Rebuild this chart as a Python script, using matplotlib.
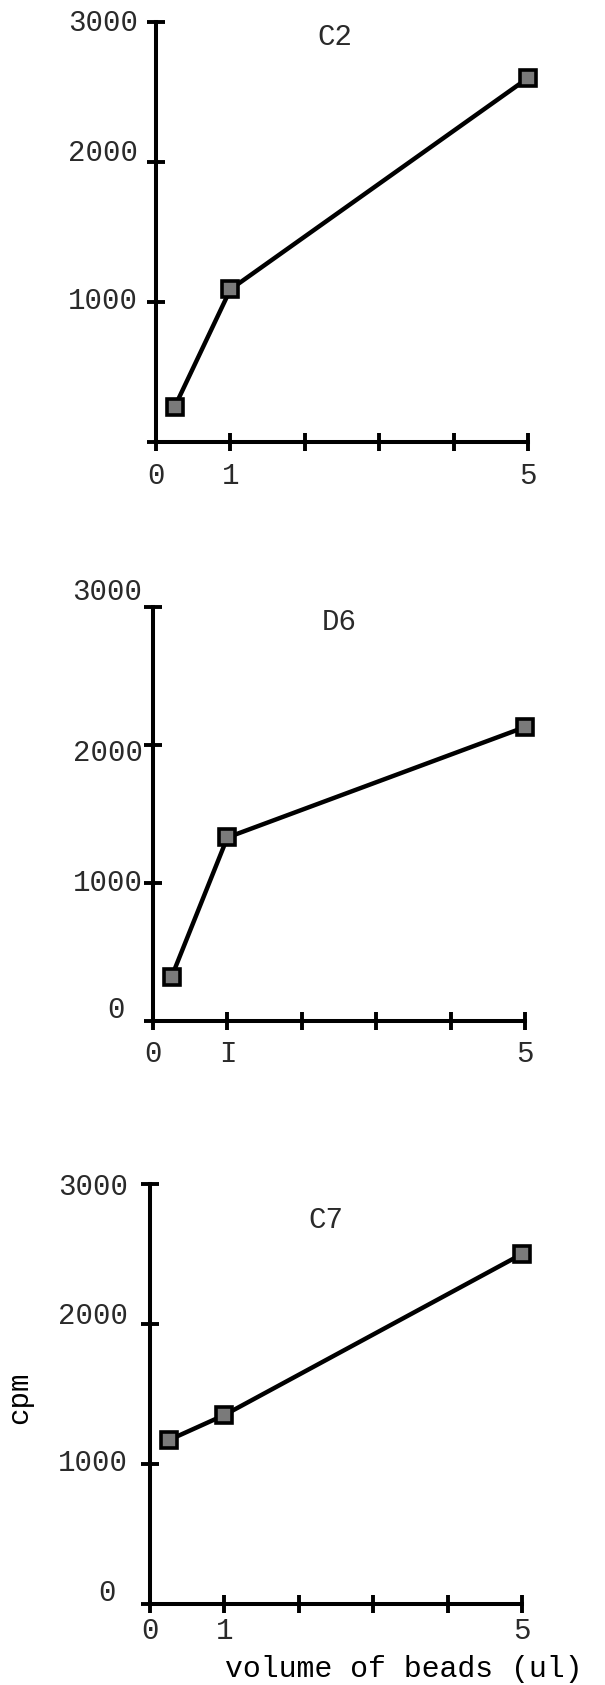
import matplotlib.pyplot as plt
from matplotlib.transforms import ScaledTranslation

plt.rcParams['font.family'] = ['Liberation Mono', 'DejaVu Sans Mono']
plt.rcParams['font.size'] = 21
plt.rcParams['text.color'] = '#2a2a2a'
plt.rcParams['xtick.color'] = 'black'
plt.rcParams['ytick.color'] = 'black'
plt.rcParams['xtick.labelcolor'] = '#2a2a2a'
plt.rcParams['ytick.labelcolor'] = '#2a2a2a'

# bead volume (ul) and counts per minute for the three clones
volume = [0.25, 1, 5]
c2_cpm = [250, 1090, 2600]
d6_cpm = [320, 1330, 2130]
c7_cpm = [1170, 1350, 2500]

x_ticks = [0, 1, 2, 3, 4, 5]
y_ticks = [0, 1000, 2000, 3000]
c2_xlabels = ['0', '1', '', '', '', '5']
d6_xlabels = ['0', 'I', '', '', '', '5']
c7_xlabels = ['0', '1', '', '', '', '5']
c2_ylabels = ['', '1000', '2000', '3000']
d6_ylabels = ['0', '1000', '2000', '3000']
c7_ylabels = ['0', '1000', '2000', '3000']

W, H = 605, 1685
fig = plt.figure(figsize=(W / 100, H / 100), dpi=100)


def panel(left, right, top, bottom):
    return fig.add_axes([left / W, 1 - bottom / H, (right - left) / W, (bottom - top) / H])


def draw(ax, cpm, name, name_xy, xlabels, ylabels, ypad, xpad, ynudge):
    ax.plot(volume, cpm, color='black', linewidth=3.2, marker='s', markersize=12,
            markerfacecolor='#7a7a7a', markeredgecolor='black', markeredgewidth=2.6,
            clip_on=False, zorder=3)
    ax.set_xlim(0, 5)
    ax.set_ylim(0, 3000)
    ax.set_xticks(x_ticks)
    ax.set_xticklabels(xlabels)
    ax.set_yticks(y_ticks)
    ax.set_yticklabels(ylabels)
    ax.tick_params(axis='both', direction='inout', length=13, width=2.8)
    ax.tick_params(axis='y', pad=ypad)
    ax.tick_params(axis='x', pad=xpad)
    for side in ['top', 'right']:
        ax.spines[side].set_visible(False)
    for side in ['left', 'bottom']:
        ax.spines[side].set_linewidth(2.9)
    ax.patch.set_alpha(0)
    # hand-lettered labels sit a little off their ticks; shift them (points)
    for lab, (dx, dy) in zip(ax.get_yticklabels(), ynudge):
        lab.set_transform(lab.get_transform() + ScaledTranslation(dx / 72, dy / 72, fig.dpi_scale_trans))
    ax.text(name_xy[0], name_xy[1], name, ha='center', va='center')


ax1 = panel(156, 528, 22, 442)
draw(ax1, c2_cpm, 'C2', (2.4, 2890), c2_xlabels, c2_ylabels, 6.5, 8,
     [(0, 0), (0, 3), (0, 8.5), (0, 1.5)])

ax2 = panel(153, 525, 607, 1021)
draw(ax2, d6_cpm, 'D6', (2.5, 2890), d6_xlabels, d6_ylabels, 1, 7.5,
     [(-13, 10), (0, 2), (0, -3.5), (0, 13)])

ax3 = panel(150, 522, 1184, 1604)
draw(ax3, c7_cpm, 'C7', (2.37, 2740), c7_xlabels, c7_ylabels, 9.5, 2.5,
     [(-9, 10), (0, 3), (0, 8), (0, 0)])

ax3.set_ylabel('cpm', fontsize=21)
ax3.yaxis.set_label_coords(-0.315, 0.49)
ax3.set_xlabel('volume of beads (ul)', fontsize=21.5, va='bottom')
ax3.xaxis.set_label_coords(0.683, -0.188)

plt.savefig('out.png', dpi=100)
